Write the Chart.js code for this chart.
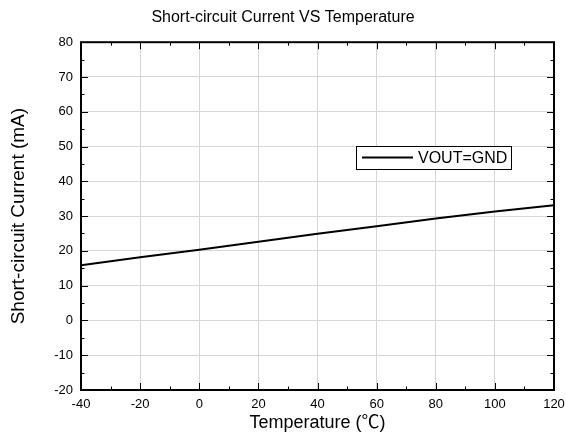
<!DOCTYPE html>
<html>
<head>
<meta charset="utf-8">
<script src="https://cdn.jsdelivr.net/npm/chart.js@4"></script>
<style>
  html, body { margin: 0; padding: 0; background: #fff; }
  #wrap { width: 566px; height: 446px; }
</style>
</head>
<body>
<div id="wrap"><canvas id="chart" width="566" height="446"></canvas></div>
<script>
var temps = [-40, -20, 0, 20, 40, 60, 80, 100, 120];
var current = [15.9, 18.2, 20.3, 22.6, 24.9, 27.1, 29.3, 31.3, 33.1];
var seriesName = 'VOUT=GND';
var xTicks = [-40, -20, 0, 20, 40, 60, 80, 100, 120];
var yTicks = [-20, -10, 0, 10, 20, 30, 40, 50, 60, 70, 80];

var FONT = "'Liberation Sans', Arial, 'Noto Sans CJK SC', sans-serif";

// frame, inward ticks and the legend box
var framePlugin = {
  id: 'frame',
  afterDraw: function (chart) {
    var c = chart.ctx, a = chart.chartArea;
    var xs = chart.scales.x, ys = chart.scales.y;
    c.save();
    c.strokeStyle = '#000';
    c.lineWidth = 1;
    c.beginPath();
    var v, px, len;
    for (v = -40; v <= 120; v += 10) {
      px = Math.round(xs.getPixelForValue(v)) + 0.5;
      len = (v % 20 === 0) ? 7 : 3.5;
      c.moveTo(px, a.bottom); c.lineTo(px, a.bottom - len);
      c.moveTo(px, a.top); c.lineTo(px, a.top + len);
    }
    for (v = -20; v <= 80; v += 5) {
      px = Math.round(ys.getPixelForValue(v)) + 0.5;
      len = (v % 10 === 0) ? 7 : 3.5;
      c.moveTo(a.left, px); c.lineTo(a.left + len, px);
      c.moveTo(a.right, px); c.lineTo(a.right - len, px);
    }
    c.stroke();
    c.lineWidth = 2;
    c.strokeRect(a.left, a.top, a.right - a.left, a.bottom - a.top);

    // legend
    var bx = 356, by = 146, bw = 155, bh = 23;
    c.fillStyle = '#fff';
    c.fillRect(bx, by, bw, bh);
    c.lineWidth = 1;
    c.strokeRect(bx + 0.5, by + 0.5, bw, bh);
    c.lineWidth = 2;
    c.beginPath();
    c.moveTo(bx + 6, by + 11.5); c.lineTo(bx + 57, by + 11.5);
    c.stroke();
    c.fillStyle = '#000';
    c.font = '16px ' + FONT;
    c.textBaseline = 'middle';
    c.fillText(chart.data.datasets[0].label, bx + 62, by + 12.5);
    c.restore();
  }
};

new Chart(document.getElementById('chart'), {
  type: 'line',
  data: {
    datasets: [{
      label: seriesName,
      data: temps.map(function (t, i) { return { x: t, y: current[i] }; }),
      borderColor: '#000',
      borderWidth: 2,
      pointRadius: 0,
      tension: 0
    }]
  },
  options: {
    responsive: false,
    animation: false,
    layout: { padding: 0 },
    plugins: {
      legend: { display: false },
      tooltip: { enabled: false },
      title: {
        display: true,
        text: 'Short-circuit Current VS Temperature',
        color: '#000',
        font: { family: FONT, size: 16, weight: 'normal' },
        padding: { top: 8, bottom: 15 }
      }
    },
    scales: {
      x: {
        type: 'linear',
        min: -40, max: 120,
        afterBuildTicks: function (s) { s.ticks = xTicks.map(function (v) { return { value: v }; }); },
        afterFit: function (s) { s.height = 56; s.paddingLeft = 0; s.paddingRight = 12; },
        grid: { color: '#d6d6d6', drawTicks: false },
        border: { display: false },
        ticks: { color: '#000', padding: 7, maxRotation: 0, font: { family: FONT, size: 13 } },
        title: {
          display: true,
          text: 'Temperature (℃)',
          color: '#000',
          font: { family: FONT, size: 18 },
          padding: { top: 0, bottom: 12 }
        }
      },
      y: {
        min: -20, max: 80,
        afterBuildTicks: function (s) { s.ticks = yTicks.map(function (v) { return { value: v }; }); },
        afterFit: function (s) { s.width = 81; },
        grid: { color: '#d6d6d6', drawTicks: false },
        border: { display: false },
        ticks: { color: '#000', padding: 8, font: { family: FONT, size: 13 } },
        title: {
          display: true,
          text: 'Short-circuit Current (mA)',
          color: '#000',
          font: { family: FONT, size: 19 },
          padding: { top: 7, bottom: 0 }
        }
      }
    }
  },
  plugins: [framePlugin]
});
</script>
</body>
</html>
